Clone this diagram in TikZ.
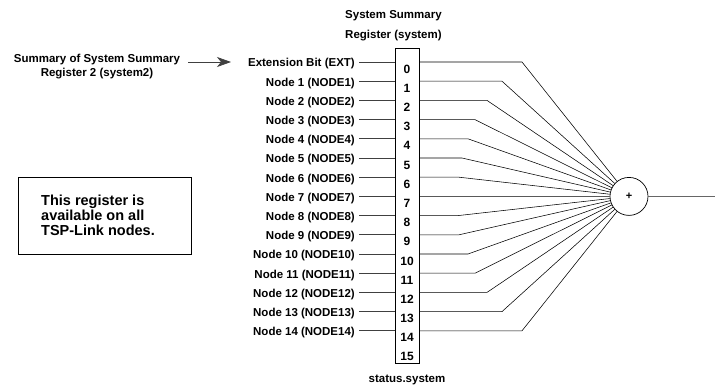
\documentclass[tikz,border=0pt]{standalone}
\usepackage{fontspec}
\setmainfont{Liberation Sans}
\usetikzlibrary{arrows.meta}
\tikzset{
  lbl/.style={font=\bfseries\fontsize{11.5}{13}\selectfont, inner sep=0pt},
  bitlbl/.style={font=\bfseries\fontsize{12}{13}\selectfont, inner sep=0pt},
  wire/.style={line width=0.7pt, draw=black!75},
  fan/.style={line width=0.55pt, draw=black},
}
\begin{document}
\begin{tikzpicture}[x=1pt,y=-1pt]
\useasboundingbox (0,0) rectangle (715,388);
% register
\node[draw, line width=0.7pt, minimum width=24pt, minimum height=315pt, inner sep=0pt] (reg) at (407,205.5) {};
\node[lbl, anchor=west] (t1) at (345,16) {System Summary};
\node[lbl, anchor=west] (t2) at (345,36) {Register (system)};
\node[lbl] (st) at (407,380) {status.system};
% summing junction
\node[draw, circle, line width=0.7pt, minimum size=38pt, inner sep=0pt, font=\bfseries\fontsize{11}{12}\selectfont] (sum) at (629,196.4) {+};
\coordinate (out) at (715,196.4);
\draw[line width=1pt, draw=black!60] (sum) -- (out);
% bits
\foreach \i/\txt/\bx in {
  0/Extension Bit (EXT)/522,
  1/Node 1 (NODE1)/502,
  2/Node 2 (NODE2)/487,
  3/Node 3 (NODE3)/475,
  4/Node 4 (NODE4)/468,
  5/Node 5 (NODE5)/462,
  6/Node 6 (NODE6)/459,
  7/Node 7 (NODE7)/458,
  8/Node 8 (NODE8)/458,
  9/Node 9 (NODE9)/459,
  10/Node 10 (NODE10)/468,
  11/Node 11 (NODE11)/475,
  12/Node 12 (NODE12)/487,
  13/Node 13 (NODE13)/502,
  14/Node 14 (NODE14)/522}{
  \pgfmathsetmacro{\yy}{62+19.2*\i}
  \node[lbl, anchor=east] (lab\i) at (355,\yy+2) {\txt};
  \node[bitlbl] (bit\i) at (407,\yy+7) {\i};
  \coordinate (inL\i) at (reg.west |- 0,\yy);
  \coordinate (inR\i) at (reg.east |- 0,\yy);
  \coordinate (bend\i) at (\bx,\yy);
  \draw[wire] (lab\i.east |- inL\i) ++(4,0) -- (inL\i);
  \draw[fan] (inR\i) -- (bend\i) -- (sum);
}
\node[bitlbl] (bit15) at (407,62+19.2*15+6) {15};
% left summary input
\node[lbl, align=center] (sum2) at (97,67) {Summary of System Summary\\[1pt]Register 2 (system2)};
\coordinate (arrS) at (188,62);
\coordinate (arrE) at (231,62);
\draw[wire, -{Stealth[length=14pt, width=10pt, inset=4pt]}] (arrS) -- (arrE);
% note box
\node[draw, line width=0.7pt, minimum width=173pt, minimum height=77pt, inner sep=0pt] (note) at (104.5,215.5) {};
\node[anchor=west, align=left, font=\bfseries\fontsize{14.5}{15}\selectfont, inner sep=0pt] (notetxt) at (41,215) {This register is\\available on all\\TSP-Link nodes.};
\end{tikzpicture}
\end{document}
